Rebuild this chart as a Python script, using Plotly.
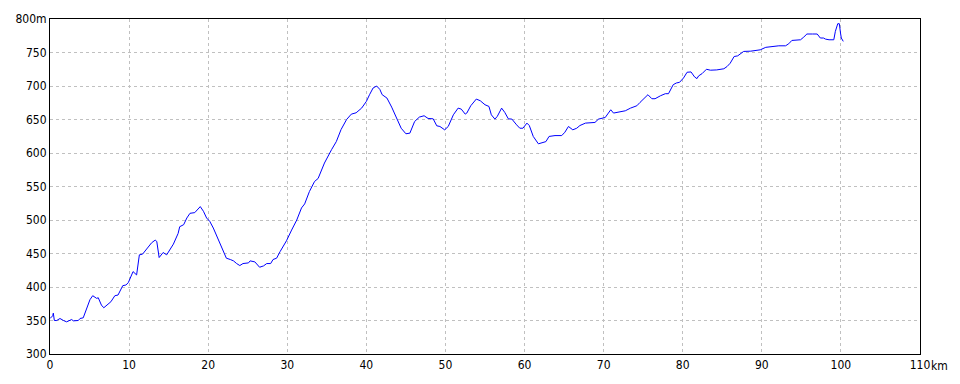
import plotly.graph_objects as go

distance_km = [0, 0.34, 0.42, 0.55, 0.85, 1.26, 1.7, 2.1, 2.74, 2.95, 3.58, 3.8, 4.2, 4.6, 5.05, 5.4, 5.9, 6.1, 6.5, 6.8,
               7.4, 7.7, 8.2, 8.6, 9.2, 9.6, 9.9, 10.3, 10.5, 10.95, 11.3, 11.7, 12.2, 12.85, 13.3, 13.5, 13.8, 14.3,
               14.75, 15.2, 15.6, 16.2, 16.4, 16.9, 17.3, 17.7, 18.3, 19.0, 19.4, 19.8, 20.2, 20.65, 21.3, 21.9, 22.3,
               22.8, 23.2, 23.6, 24.0, 24.4, 25.1, 25.3, 25.9, 26.5, 27.0, 27.4, 27.9, 28.2, 28.65, 29.1, 29.5, 29.9,
               30.55, 31.2, 31.8, 32.2, 32.8, 33.45, 33.9, 34.7, 35.6, 36.2, 36.8, 37.5, 38.1, 38.7, 39.4, 40.0, 40.4,
               40.85, 41.3, 41.7, 42.0, 42.6, 43.2, 43.8, 44.4, 45.0, 45.5, 46.1, 46.7, 47.3, 47.8, 48.45, 48.9, 49.3,
               49.9, 50.35, 51.0, 51.6, 52.0, 52.5, 52.7, 53.2, 53.9, 54.4, 55.0, 55.5, 55.8, 56.25, 56.55, 57.1, 57.5,
               57.95, 58.4, 59.0, 59.4, 59.8, 60.3, 60.6, 61.1, 61.75, 62.2, 62.7, 63.1, 63.85, 64.7, 65.1, 65.55, 66.1,
               66.6, 67.0, 67.7, 68.9, 69.35, 70.2, 70.6, 70.9, 71.25, 72.1, 72.74, 73.4, 74.2, 74.6, 75.1, 75.6, 76.1,
               76.5, 77.2, 77.8, 78.2, 78.8, 79.2, 79.6, 80.1, 80.55, 81.05, 81.5, 81.8, 82.0, 82.45, 83.0, 83.5, 84.3,
               85.2, 85.6, 86.0, 86.5, 86.95, 87.7, 88.6, 89.4, 89.8, 90.5, 91.3, 92.15, 93.0, 93.4, 93.8, 94.9, 95.3,
               95.7, 96.4, 97.0, 97.4, 97.8, 98.05, 98.5, 99.1, 99.3, 99.6, 99.8, 99.95, 100.05, 100.3]

elevation_m = [353, 357, 361, 350, 350, 353, 350, 348, 351.5, 349.5, 350, 353, 354, 368, 381, 387, 383, 384, 373, 369,
               375, 378, 387, 388, 402, 403, 406.5, 419.5, 423, 418, 448, 449, 456, 466, 470, 468, 444, 451.5,
               448, 456, 464, 480, 490, 493, 503, 510, 511, 520, 513, 503, 498, 488, 470, 454, 443,
               441, 439, 435, 432, 435, 436, 439, 437.5, 429.5, 431.5, 435, 435, 441, 443, 453, 461, 469,
               485, 500, 518, 524, 542.5, 557.5, 562, 585, 605, 617, 635, 650, 658, 660, 667, 677, 687,
               697, 700, 695, 687, 682, 668.5, 652, 637, 628.7, 629.6, 647, 653.6, 655.6, 651.6, 651, 640.6, 639.6,
               634.6, 639.6, 657, 667, 665.5, 658, 659.6, 670.5, 680.5, 678, 672, 669.5, 657, 650.6, 654.6, 667, 660.6,
               651, 650.6, 642, 637, 637, 644.6, 641, 624.7, 613.7, 615.7, 617, 624.7, 626, 626, 631, 639.6, 634.6,
               637, 641, 644.6, 645.6, 650.6, 653, 659.6, 664.5, 659.6, 662, 663, 667, 670.5, 675.5, 682, 687, 681,
               681, 685.5, 688.5, 688.5, 702, 704.5, 705.5, 712, 720.5, 721, 713.5, 711, 715, 718.5, 725, 723.6, 724,
               725.7, 729, 734, 744, 745, 751.6, 752, 753, 754, 757.7, 759, 760, 760, 763, 768, 769, 773,
               777.6, 777.6, 777.6, 771.6, 771.6, 770, 769, 769, 781.6, 793, 793, 779, 771.6, 766.6]

x_tick_vals = [0, 10, 20, 30, 40, 50, 60, 70, 80, 90, 100, 110]
x_tick_text = ["0", "10", "20", "30", "40", "50", "60", "70", "80", "90", "100", "110"]
y_tick_vals = [300, 350, 400, 450, 500, 550, 600, 650, 700, 750, 800]
y_tick_text = ["300", "350", "400", "450", "500", "550", "600", "650", "700", "750", "800m"]

FONT = "Liberation Sans Narrow, DejaVu Sans Condensed, Noto Sans CJK JP, sans-serif"

fig = go.Figure()
fig.add_trace(go.Scatter(x=distance_km, y=elevation_m, mode="lines",
                         line=dict(color="#0000ff", width=1), hoverinfo="skip", showlegend=False))

axis_common = dict(showgrid=True, gridcolor="#c0c0c0", griddash="3px,3px", gridwidth=1,
                   showline=True, linecolor="#000000", linewidth=1, mirror=True,
                   zeroline=False, ticks="", tickfont=dict(family=FONT, size=12, color="#000000"))

fig.update_xaxes(range=[0, 110], tickmode="array", tickvals=x_tick_vals, ticktext=x_tick_text, **axis_common)
fig.update_yaxes(range=[300, 800], tickmode="array", tickvals=y_tick_vals, ticktext=y_tick_text, **axis_common)

fig.add_annotation(x=1, y=0, xref="paper", yref="paper", text="km", showarrow=False,
                   xanchor="left", yanchor="top", xshift=9, yshift=-3,
                   font=dict(family=FONT, size=12, color="#000000"))

fig.update_layout(width=960, height=384, margin=dict(l=50, r=40, t=19, b=30),
                  paper_bgcolor="#ffffff", plot_bgcolor="#ffffff")

fig.write_html("out.html")
